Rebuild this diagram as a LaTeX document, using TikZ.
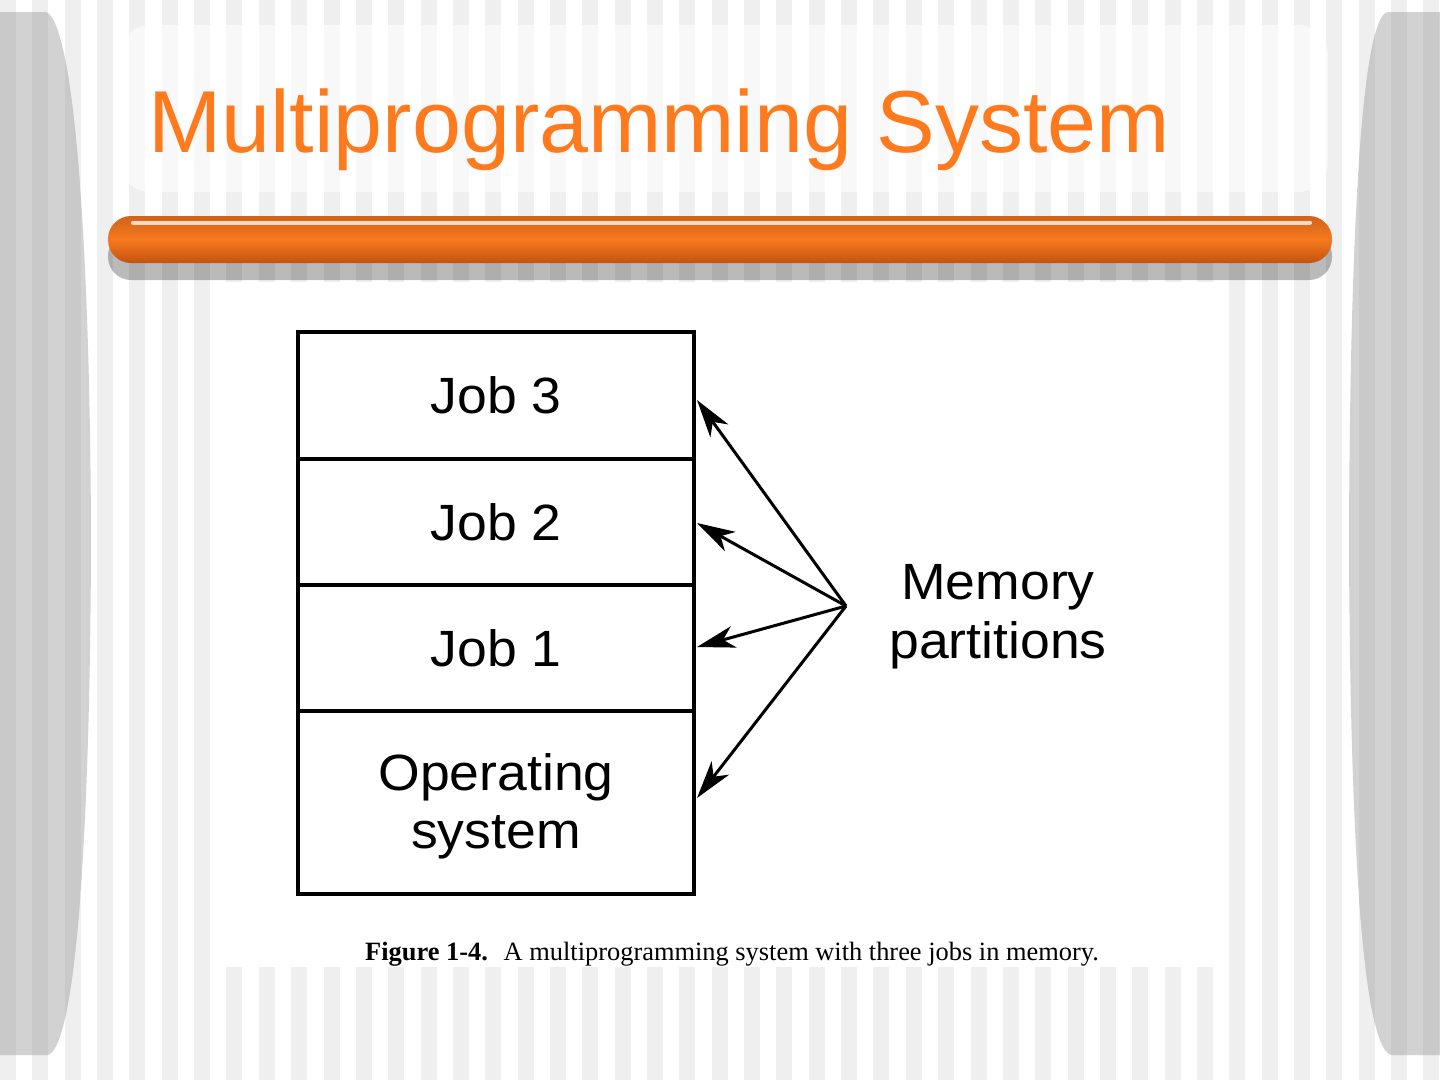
\documentclass[tikz,border=0pt]{standalone}
\usepackage{fontspec}
\setmainfont{Liberation Serif}
\newfontfamily\sansfig[FakeStretch=1.05]{Liberation Sans}
\newfontfamily\titlefont{Liberation Sans}
\usetikzlibrary{arrows.meta}
\definecolor{stripegray}{HTML}{EFEFEF}
\definecolor{pillar}{HTML}{D2D2D2}
\definecolor{pillardark}{HTML}{C9C9C9}
\definecolor{titleorange}{HTML}{FF7A1C}
\definecolor{bartop}{HTML}{D2621A}
\definecolor{barmid}{HTML}{F7791E}
\definecolor{barbot}{HTML}{C2530E}
\tikzset{
  cell/.style={draw=black, line width=4pt, minimum width=396pt, inner sep=0pt,
    font=\sansfig\fontsize{51}{59}\selectfont, align=center},
  lbl/.style={font=\sansfig\fontsize{51}{59}\selectfont, align=center, inner sep=0pt},
  arr/.style={line width=3pt, -{Stealth[length=38pt,width=22pt,inset=11pt]}},
}
\begin{document}
\begin{tikzpicture}[x=1pt,y=-1pt]
\useasboundingbox (0,0) rectangle (1440,1080);
% background
\fill[white] (0,0) rectangle (1440,1080);
\foreach \k in {0,...,44}
  \fill[stripegray] ({\k*32.35},0) rectangle ({\k*32.35+16},1080);
% pillars
\def\leftpillar{(0,12) -- (45,12) .. controls (70,14) and (90,200) .. (91,540) .. controls (90,880) and (72,1053) .. (47,1055) -- (0,1055) -- cycle}
\def\rightpillar{(1440,12) -- (1388,12) .. controls (1364,14) and (1350,200) .. (1349,540) .. controls (1350,880) and (1366,1053) .. (1392,1055) -- (1440,1055) -- cycle}
\fill[pillar] \leftpillar;
\fill[pillar] \rightpillar;
\begin{scope}
  \clip \leftpillar;
  \foreach \k in {0,...,3}
    \fill[pillardark] ({\k*32.35},0) rectangle ({\k*32.35+16},1080);
\end{scope}
\begin{scope}
  \clip \rightpillar;
  \foreach \k in {41,...,44}
    \fill[pillardark] ({\k*32.35},0) rectangle ({\k*32.35+16},1080);
\end{scope}
% title box
\fill[white, opacity=0.6, rounded corners=30pt] (120,25) rectangle (1328,192);
\node[anchor=base west, inner sep=0pt, text=titleorange,
  font=\titlefont\fontsize{88}{100}\selectfont] (title) at (148,152) {Multiprogramming System};
% orange bar with shadow
\fill[black, opacity=0.27, rounded corners=23pt] (108,233) rectangle (1332,280);
\shade[top color=bartop, bottom color=barbot, middle color=barmid, rounded corners=23pt]
  (108,216) rectangle (1332,263);
\draw[white, opacity=0.75, line width=4pt, line cap=round] (133,222.5) -- (1310,222.5);
% figure panel
\fill[white] (211,282) rectangle (1229,967);
% memory cells
\node[cell, minimum height=127pt] (job3) at (496,395.5) {Job 3};
\node[cell, minimum height=126pt] (job2) at (496,522) {Job 2};
\node[cell, minimum height=126pt] (job1) at (496,648) {Job 1};
\node[cell, minimum height=183pt] (os) at (496,802.5) {\raisebox{-5pt}[\height][\depth]{\begin{tabular}{@{}c@{}}Operating\\[-1pt]system\end{tabular}}};
% arrows
\coordinate (hub) at (846,606);
\coordinate (t3) at (697,400);
\coordinate (t2) at (697,523);
\coordinate (t1) at (697,647);
\coordinate (t0) at (697,798);
\draw[arr] (hub) -- (t3);
\draw[arr] (hub) -- (t2);
\draw[arr] (hub) -- (t1);
\draw[arr] (hub) -- (t0);
\node[lbl] (mem) at (998,617) {Memory\\partitions};
% caption
\node[anchor=base west, inner sep=0pt, font=\fontsize{26.4}{30}\selectfont] (cap) at (365,960)
  {\textbf{Figure 1-4.}\hspace{0.6em}A multiprogramming system with three jobs in memory.};
\end{tikzpicture}
\end{document}
